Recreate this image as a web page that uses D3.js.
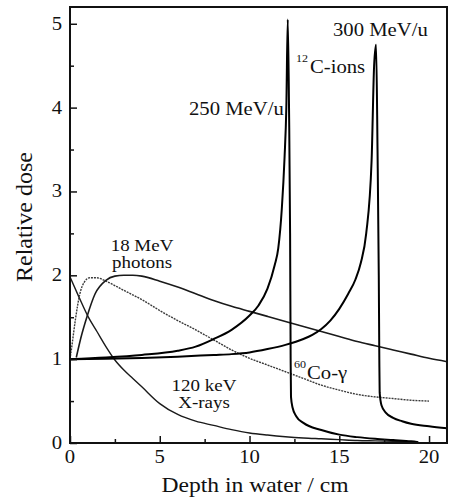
<!DOCTYPE html>
<html>
<head>
<meta charset="utf-8">
<script src="https://cdn.jsdelivr.net/npm/d3@7"></script>
<style>
  body { margin: 0; background: #fff; }
  svg { display: block; font-family: "Liberation Serif", "Times New Roman", serif; }
</style>
</head>
<body>
<svg id="chart" width="454" height="498"></svg>
<script>
// depth (cm) / relative dose
const xrayDepth = [0, 0.5, 1, 1.5, 2, 2.5, 3, 3.5, 4, 5, 6, 7, 8, 9, 10, 11, 12, 13, 14, 15, 16, 17, 18, 19, 19.4]
const xrayDose  = [1.98, 1.74, 1.51, 1.33, 1.15, 0.99, 0.87, 0.77, 0.67, 0.47, 0.34, 0.26, 0.21, 0.16, 0.12, 0.095, 0.075, 0.06, 0.05, 0.04, 0.03, 0.025, 0.02, 0.012, 0.008]

const coDepth = [0, 0.1, 0.3, 0.55, 0.8, 1.1, 1.5, 2, 3, 4, 5, 6, 7, 8, 9, 10, 11, 12, 13, 14, 15, 16, 17, 18, 19, 20]
const coDose  = [1.0, 1.15, 1.47, 1.78, 1.92, 1.97, 1.97, 1.93, 1.82, 1.71, 1.58, 1.46, 1.35, 1.23, 1.11, 1.01, 0.93, 0.85, 0.77, 0.69, 0.63, 0.58, 0.55, 0.53, 0.51, 0.5]

const photonDepth = [0.35, 0.6, 0.95, 1.4, 2, 2.5, 3, 3.5, 4, 5, 6, 7, 8, 9, 10, 11, 12, 13, 14, 15, 16, 17, 18, 19, 20, 21]
const photonDose  = [1.02, 1.25, 1.51, 1.78, 1.94, 1.99, 2.0, 2.0, 1.99, 1.93, 1.86, 1.78, 1.7, 1.63, 1.57, 1.51, 1.45, 1.39, 1.33, 1.27, 1.21, 1.16, 1.11, 1.06, 1.01, 0.97]

const c250Depth = [0, 2, 4, 6, 7, 8, 9, 10, 10.5, 11, 11.4, 11.6, 11.8, 11.95, 12.05, 12.13, 12.2, 12.26, 12.29, 12.31, 12.4, 12.6, 13, 14, 15, 16, 17, 18, 19, 19.4]
const c250Dose  = [1.0, 1.02, 1.05, 1.1, 1.15, 1.24, 1.35, 1.52, 1.64, 1.84, 2.12, 2.32, 2.8, 3.4, 4.0, 5.05, 4.0, 2.5, 1.0, 0.55, 0.42, 0.32, 0.24, 0.155, 0.1, 0.07, 0.05, 0.035, 0.02, 0.01]

const c300Depth = [0, 2, 4, 6, 8, 9, 10, 11, 12, 13, 13.5, 14, 14.5, 15, 15.5, 15.9, 16.2, 16.5, 16.8, 16.94, 17.05, 17.13, 17.2, 17.23, 17.25, 17.35, 17.6, 18, 18.5, 19, 20, 21]
const c300Dose  = [1.0, 1.005, 1.015, 1.03, 1.05, 1.06, 1.08, 1.12, 1.17, 1.24, 1.29, 1.36, 1.46, 1.6, 1.78, 1.95, 2.15, 2.5, 3.37, 4.5, 4.75, 3.5, 2.0, 1.0, 0.6, 0.45, 0.36, 0.3, 0.26, 0.23, 0.2, 0.175]

const xTicks = [0, 5, 10, 15, 20]
const xMinor = [2.5, 7.5, 12.5, 17.5]
const yTicks = [0, 1, 2, 3, 4, 5]
const yMinor = [0.5, 1.5, 2.5, 3.5, 4.5]

const svg = d3.select("#chart")
const margin = {top: 7, right: 7, bottom: 55, left: 70}
const width = 454 - margin.left - margin.right
const height = 498 - margin.top - margin.bottom
const sx = 1.15  // glyphs in the figure are a bit wide

const g = svg.append("g").attr("transform", "translate(" + margin.left + "," + margin.top + ")")

const x = d3.scaleLinear().domain([0, 21]).range([0, width])
const y = d3.scaleLinear().domain([0, 5.2]).range([height, 0])

const zip = (xs, ys) => xs.map((d, i) => [d, ys[i]])
const line = d3.line().x(d => x(d[0])).y(d => y(d[1])).curve(d3.curveMonotoneX)

function label(px, py, text, size, anchor) {
  return g.append("text")
    .attr("transform", "translate(" + px + "," + py + ") scale(" + sx + ",1)")
    .attr("text-anchor", anchor || "start")
    .style("font-size", size + "px")
    .style("fill", "#111")
    .text(text)
}

/* Curves
-------------------------------------------------------------------------------------------------*/
g.append("path").datum(zip(xrayDepth, xrayDose))
  .attr("d", line).style("fill", "none").style("stroke", "#1a1a1a").style("stroke-width", 1.4)

g.append("path").datum(zip(coDepth, coDose))
  .attr("d", line).style("fill", "none").style("stroke", "#3a3a3a").style("stroke-width", 1.4)
  .style("stroke-dasharray", "2,1")

g.append("path").datum(zip(photonDepth, photonDose))
  .attr("d", line).style("fill", "none").style("stroke", "#1a1a1a").style("stroke-width", 1.6)

g.append("path").datum(zip(c250Depth, c250Dose))
  .attr("d", line).style("fill", "none").style("stroke", "#000").style("stroke-width", 2)

g.append("path").datum(zip(c300Depth, c300Dose))
  .attr("d", line).style("fill", "none").style("stroke", "#000").style("stroke-width", 2)

/* Axes (ticks inside, box around)
-------------------------------------------------------------------------------------------------*/
g.append("g")
  .attr("transform", "translate(0," + height + ")")
  .call(d3.axisTop(x).tickValues(xMinor).tickSize(4).tickFormat(""))
g.append("g")
  .attr("transform", "translate(0," + height + ")")
  .call(d3.axisTop(x).tickValues(xTicks).tickSize(7).tickFormat(""))
g.append("g")
  .call(d3.axisRight(y).tickValues(yMinor).tickSize(4).tickFormat(""))
g.append("g")
  .call(d3.axisRight(y).tickValues(yTicks).tickSize(7).tickFormat(""))
g.selectAll(".domain").remove()
g.selectAll(".tick line").style("stroke", "#111").style("stroke-width", 1.5)

g.append("rect")
  .attr("width", width).attr("height", height)
  .style("fill", "none").style("stroke", "#111").style("stroke-width", 2)

xTicks.forEach(t => label(x(t), height + 20, t, 18, "middle"))
yTicks.forEach(t => label(-8, y(t) + 6, t, 18, "end"))

label(185, height + 49, "Depth in water / cm", 20.5, "middle")

g.append("text")
  .attr("transform", "translate(-38," + (height / 2 - 8) + ") rotate(-90)")
  .attr("text-anchor", "middle")
  .style("font-size", "24px")
  .style("fill", "#111")
  .text("Relative dose")

/* Annotations
-------------------------------------------------------------------------------------------------*/
label(263, 29, "300 MeV/u", 18)
label(119, 108, "250 MeV/u", 18)
label(226, 55, "12", 10.5)
label(240, 66, "C-ions", 18)
label(72, 244, "18 MeV", 16.5, "middle")
label(72, 261, "photons", 16.5, "middle")
label(134, 384, "120 keV", 16.5, "middle")
label(134, 401, "X-rays", 16.5, "middle")
label(224, 361, "60", 10.5)
label(237, 372, "Co-γ", 18)
</script>
</body>
</html>
